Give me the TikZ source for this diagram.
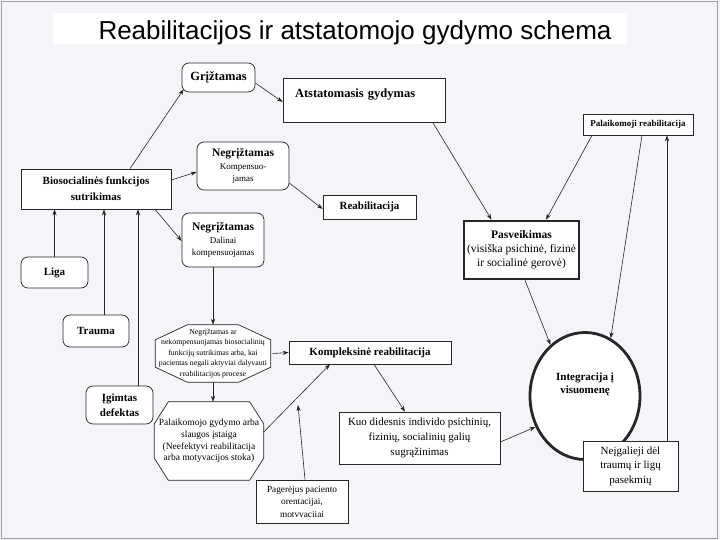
\documentclass[tikz,border=0pt]{standalone}
\usepackage{fontspec}
\setmainfont{Liberation Serif}
\newfontfamily\titlefont{Liberation Sans}
\usetikzlibrary{shapes.geometric,arrows.meta,calc}
\pgfdeclarelayer{back}
\pgfdeclarelayer{octl}
\pgfsetlayers{back,octl,main}
\definecolor{bgc}{HTML}{F3F5F8}
\definecolor{ink}{HTML}{262626}
\newcommand\octdraw[3]{%
  \draw[draw=ink, line width=0.7pt, fill=white]
    ([xshift=#2]#1.north west) -- ([xshift=-#2]#1.north east)
    -- ([yshift=-#3]#1.north east) -- ([yshift=#3]#1.south east)
    -- ([xshift=-#2]#1.south east) -- ([xshift=#2]#1.south west)
    -- ([yshift=#3]#1.south west) -- ([yshift=-#3]#1.north west) -- cycle;}
\begin{document}
\begin{tikzpicture}[x=1pt,y=-1pt,
  line/.style={draw=ink, line width=0.7pt},
  box/.style={line, fill=white, rectangle, align=center, inner sep=0pt, font=\fontsize{11}{15}\selectfont},
  rbox/.style={box, rounded corners=7pt},
  octnode/.style={align=center, inner sep=0pt},
  arr/.style={draw=ink, line width=0.6pt, -{Stealth[length=6pt,width=4.2pt]}},
]
\useasboundingbox (0,0) rectangle (720,540);
\begin{pgfonlayer}{back}
  \fill[bgc] (0,0) rectangle (720,540);
  \draw[gray!75, line width=1.5pt] (1.5,1.5) rectangle (717.5,538.5);
  \fill[white] (53,13) rectangle (627,44);
\end{pgfonlayer}

\node[font=\titlefont\fontsize{26}{30}\selectfont, inner sep=0pt, anchor=base] (title) at (355,40) {Reabilitacijos ir atstatomojo gydymo schema};

% nodes
\node[rbox, minimum width=73pt, minimum height=29pt, font=\bfseries\fontsize{12.5}{14}\selectfont] (gri) at (218.5,77.5) {Grįžtamas};
\node[box, minimum width=162pt, minimum height=44pt, text width=138pt, align=left, inner xsep=12pt, text depth=14pt, font=\bfseries\fontsize{12.5}{14}\selectfont] (ats) at (364,100.5) {Atstatomasis gydymas};
\node[box, minimum width=110pt, minimum height=21pt, font=\bfseries\fontsize{9}{11}\selectfont] (pal) at (638,124.5) {Palaikomoji reabilitacija};
\node[rbox, minimum width=92pt, minimum height=48pt, font=\fontsize{9}{12.5}\selectfont] (negk) at (243,166) {{\bfseries\fontsize{11.5}{13}\selectfont Negrįžtamas}\\Kompensuo-\\jamas};
\node[box, minimum width=150pt, minimum height=40pt, font=\bfseries\fontsize{11}{16}\selectfont] (bio) at (96,189) {Biosocialinės funkcijos\\sutrikimas};
\node[box, minimum width=93pt, minimum height=24pt, font=\bfseries\fontsize{11}{13}\selectfont] (reab) at (369.5,207) {Reabilitacija};
\node[rbox, minimum width=82pt, minimum height=54pt, font=\fontsize{9}{12.5}\selectfont] (negd) at (223,240) {{\bfseries\fontsize{11.5}{13}\selectfont Negrįžtamas}\\Dalinai\\kompensuojamas};
\node[box, line width=2.6pt, minimum width=115pt, minimum height=58pt, font=\fontsize{11.5}{14}\selectfont] (pasv) at (521.5,250) {\textbf{Pasveikimas}\\(visiška psichinė, fizinė\\ir socialinė gerovė)};
\node[rbox, minimum width=67pt, minimum height=31pt, font=\bfseries\fontsize{11}{13}\selectfont] (liga) at (54.5,272.5) {Liga};
\node[rbox, minimum width=66pt, minimum height=32pt, font=\bfseries\fontsize{11}{13}\selectfont] (trauma) at (96,331) {Trauma};
\node[rbox, minimum width=67pt, minimum height=38pt, font=\bfseries\fontsize{11}{15}\selectfont] (igim) at (119.5,405) {Įgimtas\\defektas};
\node[octnode, minimum width=115pt, minimum height=57pt, font=\fontsize{7.8}{10.5}\selectfont] (oct1) at (213,353.5) {Negrįžtamas ar\\nekompensuojamas biosocialinių\\funkcijų sutrikimas arba, kai\\pacientas negali aktyviai dalyvauti\\reabilitacijos procese};
\node[box, minimum width=162pt, minimum height=23pt, font=\bfseries\fontsize{11}{13}\selectfont] (komp) at (370,352.5) {Kompleksinė reabilitacija};
\node[octnode, minimum width=109pt, minimum height=78pt, font=\fontsize{9.5}{11.7}\selectfont] (oct2) at (209,441) {Palaikomojo gydymo arba\\slaugos įstaiga\\(Neefektyvi reabilitacija\\arba motyvacijos stoka)};
\node[box, minimum width=161pt, minimum height=52pt, font=\fontsize{11}{15}\selectfont] (kuo) at (419.5,438) {Kuo didesnis individo psichinių,\\fizinių, socialinių galių\\sugrąžinimas};
\node[ellipse, draw=ink, line width=2.8pt, fill=white, minimum width=110pt, minimum height=127pt, inner sep=0pt,
  label={[yshift=12pt, align=center, inner sep=0pt, font=\bfseries\fontsize{11}{13}\selectfont]center:Integracija į\\visuomenę}] (integ) at (585,396) {};
\node[box, minimum width=95pt, minimum height=50pt, font=\fontsize{11}{14.5}\selectfont] (neig) at (630.5,466) {Neįgalieji dėl\\traumų ir ligų\\pasekmių};
\node[box, minimum width=92pt, minimum height=43pt, font=\fontsize{9.3}{12.5}\selectfont] (pager) at (302,501.5) {Pagerėjus paciento\\orentacijai,\\motvvaciiai};

\begin{pgfonlayer}{octl}
  \octdraw{oct1}{32pt}{15pt}
  \octdraw{oct2}{14pt}{22pt}
\end{pgfonlayer}

\coordinate (pgend) at (298,405);

% connectors
\draw[arr] ([xshift=34pt]bio.north) -- ([xshift=2pt,yshift=3pt]gri.south west);
\draw[arr] ([yshift=-5.5pt]gri.east) -- ([yshift=-1.5pt]ats.west);
\draw[arr] ([yshift=9pt]bio.east) -- ([yshift=-6pt]negk.west);
\draw[arr] ([yshift=-17pt]negk.east) -- ([yshift=-2pt]reab.west);
\draw[arr] ([xshift=59pt]bio.south) -- ([yshift=-1pt]negd.west);
\draw[arr] (liga.north) -- (liga.north |- bio.south);
\draw[arr] ([xshift=8pt]trauma.north) -- ([xshift=8pt]trauma.north |- bio.south);
\draw[arr] ([xshift=18.5pt]igim.north) -- ([xshift=18.5pt]igim.north |- bio.south);
\draw[arr] (oct1.north |- negd.south) -- (oct1.north);
\draw[arr] (oct1.south) -- (oct1.south |- oct2.north);
\draw[arr] ([xshift=2pt]oct1.east) -- (komp.west);
\draw[arr] ([yshift=9pt]oct2.east) -- ([xshift=-40pt]komp.south);
\draw[arr] ([xshift=3pt]pager.north) -- (pgend);
\draw[arr] ([xshift=4pt]komp.south) -- ([xshift=-14.5pt]kuo.north);
\draw[arr] ([yshift=-4pt]kuo.east) -- (integ.212);
\draw[arr] ([xshift=69pt]ats.south) -- ([xshift=-30pt]pasv.north);
\draw[arr] ([xshift=-46pt]pal.south) -- ([xshift=24.5pt]pasv.north);
\draw[arr] ([xshift=3.5pt]pasv.south) -- (integ.124);
\draw[arr] ([xshift=4pt]pal.south) -- (integ.66);
\draw[arr] ([xshift=36.5pt]neig.north) -- ([xshift=36.5pt]neig.north |- pal.south);
\end{tikzpicture}
\end{document}
